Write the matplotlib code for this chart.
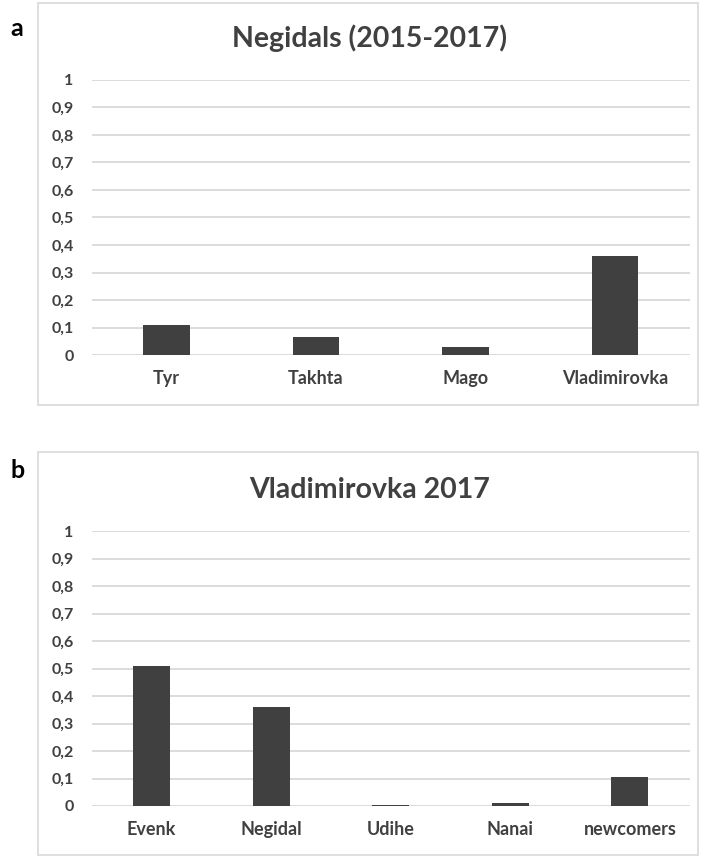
import matplotlib.pyplot as plt
from matplotlib.patches import Rectangle

plt.rcParams['font.family'] = ['Lato', 'DejaVu Sans']

# panel a
cats_a = ['Tyr', 'Takhta', 'Mago', 'Vladimirovka']
vals_a = [0.11, 0.065, 0.03, 0.36]
title_a = 'Negidals (2015-2017)'

# panel b
cats_b = ['Evenk', 'Negidal', 'Udihe', 'Nanai', 'newcomers']
vals_b = [0.51, 0.36, 0.005, 0.012, 0.105]
title_b = 'Vladimirovka 2017'

yticks = [0, 0.1, 0.2, 0.3, 0.4, 0.5, 0.6, 0.7, 0.8, 0.9, 1]
ylabels = ['0', '0,1', '0,2', '0,3', '0,4', '0,5', '0,6', '0,7', '0,8', '0,9', '1']

bar_color = '#404040'
text_color = '#404040'
grid_color = '#d9d9d9'

fig = plt.figure(figsize=(7.11, 8.59), dpi=100)


def panel(rect, box, cats, vals, title, letter, letter_y, title_y):
    # light frame around the chart like in excel
    fig.patches.append(Rectangle((box[0], box[1]), box[2], box[3], transform=fig.transFigure,
                                 fill=False, edgecolor=grid_color, linewidth=1.2))
    ax = fig.add_axes(rect)
    x = range(len(cats))
    ax.bar(x, vals, width=0.31, color=bar_color, zorder=3)
    ax.set_xlim(-0.5, len(cats) - 0.5)
    ax.set_ylim(0, 1)
    ax.set_yticks(yticks)
    ax.set_yticklabels(ylabels, fontsize=11.5, fontweight='bold', color=text_color)
    ax.set_xticks(list(x))
    ax.set_xticklabels(cats, fontsize=13, fontweight='bold', color=text_color)
    ax.tick_params(length=0)
    ax.tick_params(axis='y', pad=13)
    ax.tick_params(axis='x', pad=11)
    ax.grid(axis='y', color=grid_color, linewidth=1.3, zorder=0)
    for s in ax.spines.values():
        s.set_visible(False)
    fig.text(0.52, title_y, title, ha='center', va='center', fontsize=20.5,
             fontweight='bold', color=text_color)
    fig.text(0.015, letter_y, letter, ha='left', va='center', fontsize=18,
             fontweight='bold', color='black')
    return ax


panel([0.129, 0.5867, 0.841, 0.3202], [0.0534, 0.5285, 0.928, 0.468],
      cats_a, vals_a, title_a, 'a', 1 - 28 / 859, 1 - 38 / 859)
panel([0.129, 0.0617, 0.841, 0.3201], [0.0534, 0.0047, 0.928, 0.469],
      cats_b, vals_b, title_b, 'b', 1 - 470 / 859, 1 - 490 / 859)

fig.savefig('out.png', dpi=100)
